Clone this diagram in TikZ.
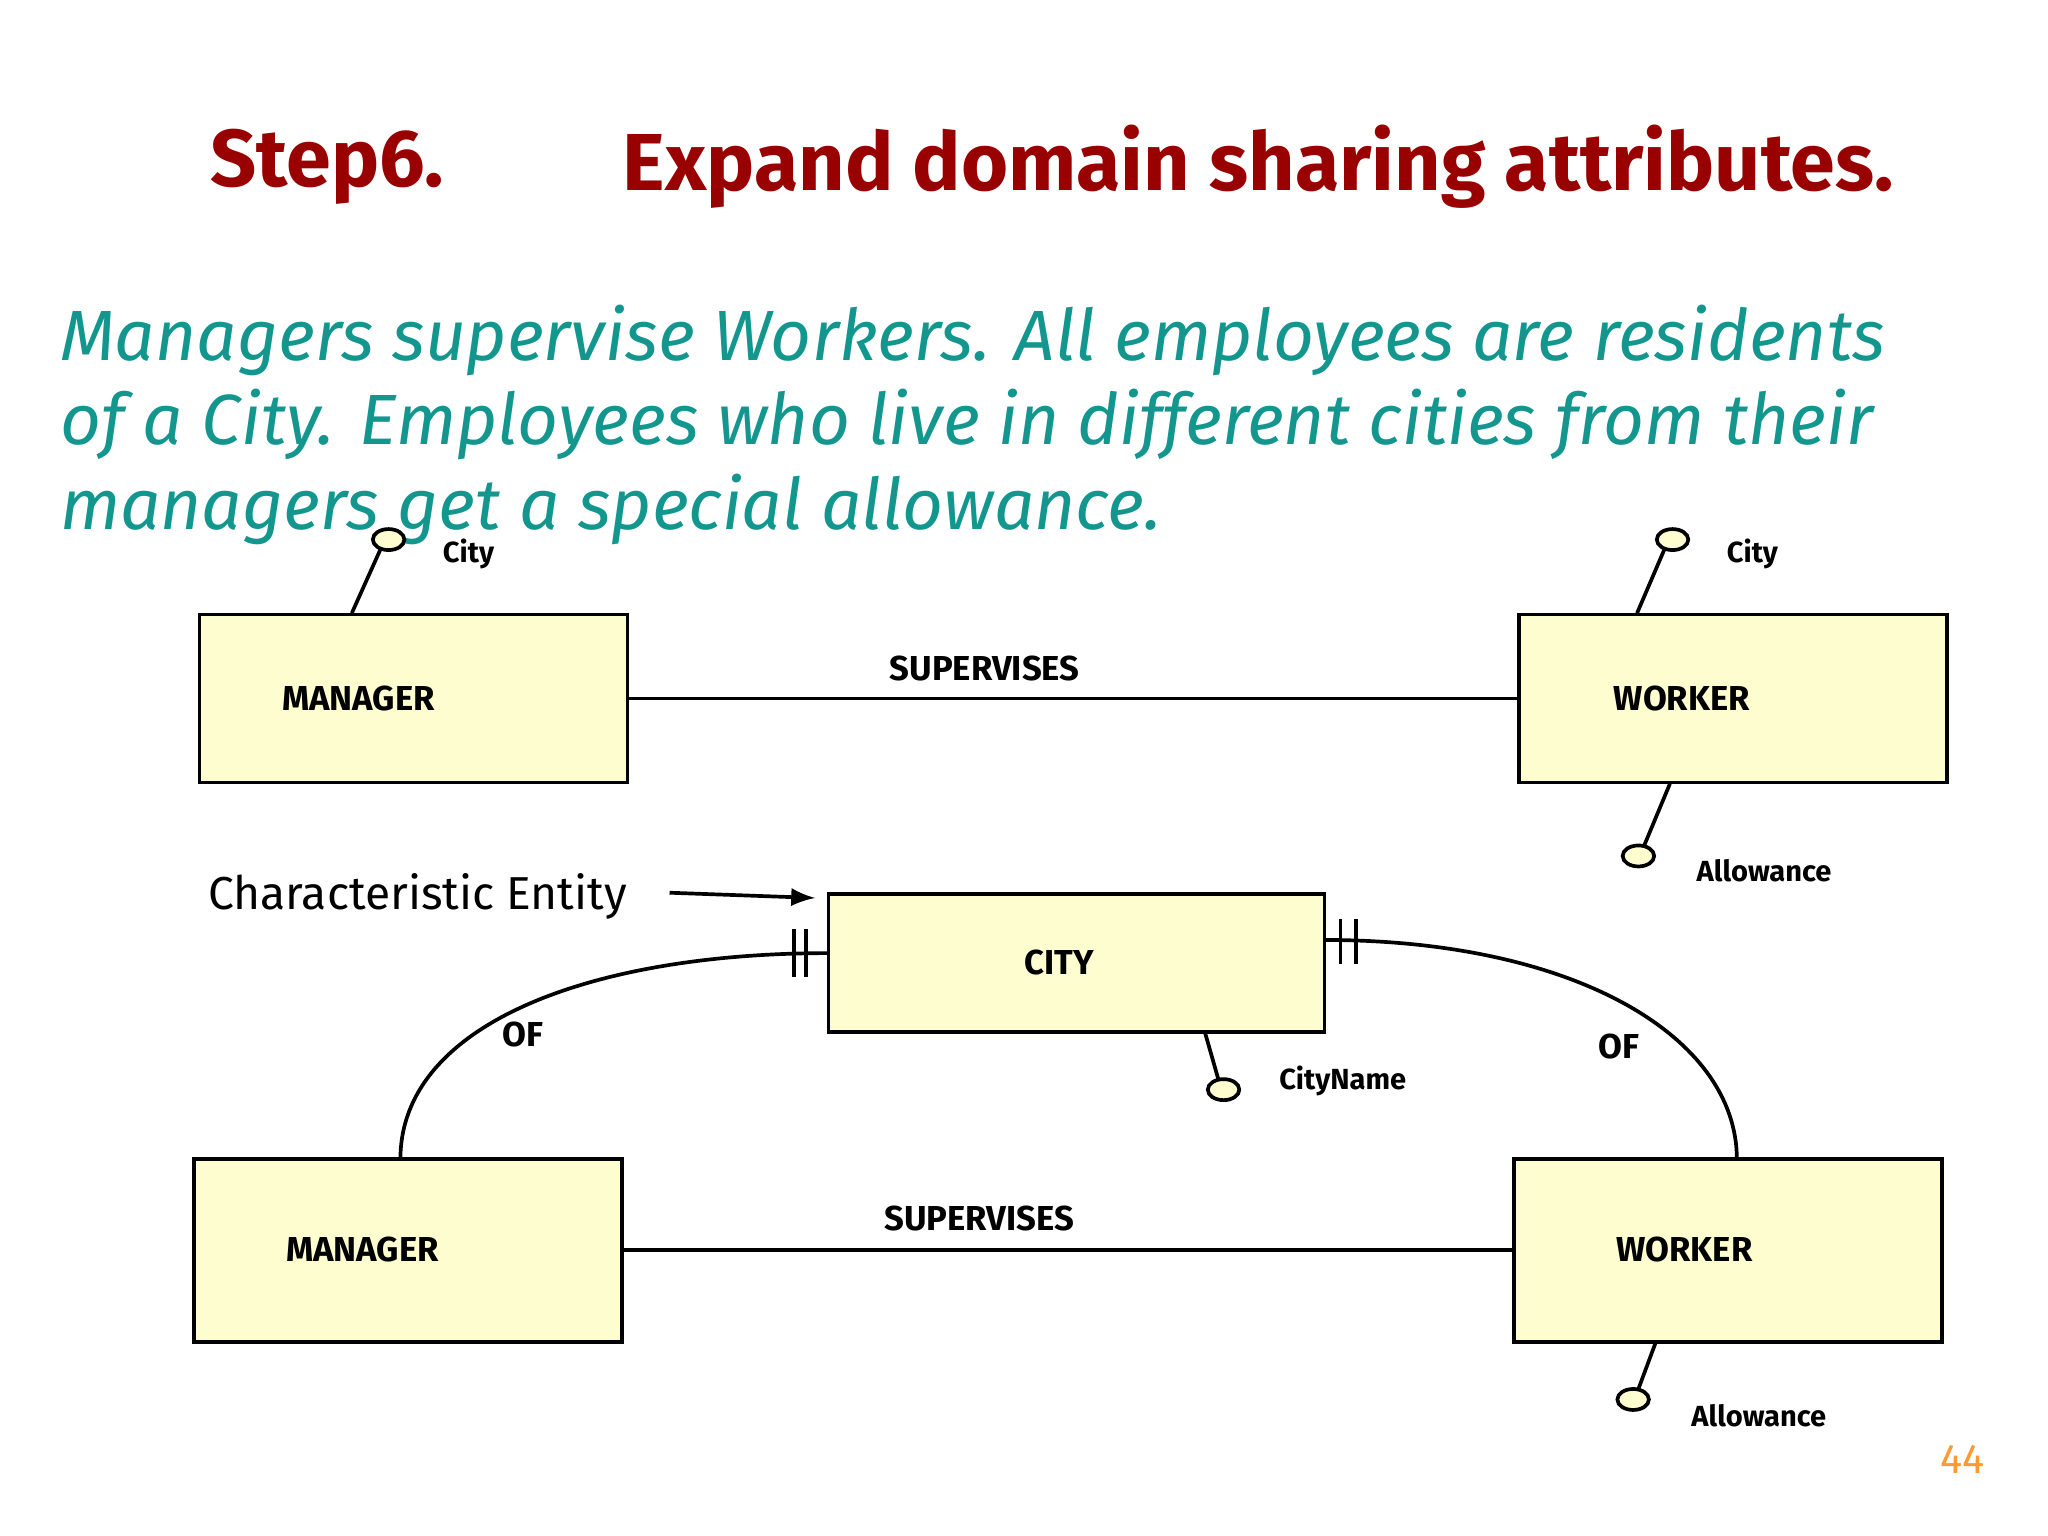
\documentclass[tikz,border=0pt]{standalone}
\usepackage{fontspec}
\setmainfont{Fira Sans}
\begin{document}
\begin{tikzpicture}[x=0.01cm,y=-0.01cm]
\definecolor{boxy}{HTML}{FDFDD0}
\definecolor{ttl}{HTML}{990000}
\definecolor{tl}{HTML}{12968E}
\tikzset{ent/.style={draw,thick,fill=boxy},
 elab/.style={font=\fontsize{7.5}{9}\selectfont\bfseries},
 alab/.style={font=\fontsize{6.3}{8}\selectfont\bfseries,anchor=west},
 att/.style={draw,fill=boxy,thick},
 conn/.style={thick}}
\useasboundingbox (0,0) rectangle (1560,1170);
\node[anchor=west,text=ttl,font=\fontsize{17.5}{21}\selectfont\bfseries] (t1) at (148,127) {Step6.};
\node[anchor=west,text=ttl,font=\fontsize{17.5}{21}\selectfont\bfseries] (t2) at (462,127) {Expand domain sharing attributes.};
\node[anchor=north west,text=tl,align=left,inner sep=0,font=\fontsize{15.4}{18.2}\selectfont\itshape] (para) at (45,232) {Managers supervise Workers. All employees are residents\\of a City. Employees who live in different cities from their\\managers get a special allowance.};
% top
\draw[ent] (152,468) rectangle (478,596); \node[elab] (m1) at (273,532) {MANAGER};
\draw[ent] (1157,468) rectangle (1483,596); \node[elab] (w1) at (1281,532) {WORKER};
\coordinate (m1r) at (478,532); \coordinate (w1l) at (1157,532);
\draw[conn] (m1r) -- (w1l); \node[elab] (s1) at (750,509) {SUPERVISES};
\draw[conn] (268,467) -- (290,418); \draw[att] (296,411) ellipse (12 and 8); \node[alab] at (325,422) {City};
\draw[conn] (1247,467) -- (1268,418); \draw[att] (1274,411) ellipse (12 and 8); \node[alab] at (1303,422) {City};
\draw[conn] (1272,597) -- (1252,645); \draw[att] (1248,652) ellipse (12 and 8); \node[alab] at (1280,663) {Allowance};
% city
\draw[ent] (631,681) rectangle (1009,786); \node[elab] (c) at (807,733) {CITY};
\draw[conn] (918,787) -- (928,822); \draw[att] (932,830) ellipse (12 and 8); \node[alab] at (962,823) {CityName};
\node[font=\fontsize{10}{12}\selectfont] (ce) at (318,683) {Characteristic Entity};
\coordinate (cea) at (510,680); \coordinate (ceb) at (621,684);
\draw[thick,-latex] (cea) -- (ceb);
% bottom
\draw[ent] (148,883) rectangle (474,1022); \node[elab] (m2) at (276,952) {MANAGER};
\draw[ent] (1153,883) rectangle (1479,1022); \node[elab] (w2) at (1283,952) {WORKER};
\draw[conn] (474,952) -- (1153,952); \node[elab] (s2) at (746,928) {SUPERVISES};
\draw[conn] (1261,1023) -- (1248,1058); \draw[att] (1244,1066) ellipse (12 and 8); \node[alab] at (1276,1078) {Allowance};
\draw[conn] (305,883) .. controls (305,780) and (450,726) .. (631,726);
\draw[conn] (605,708) -- (605,744) (614,708) -- (614,744);
\node[elab] at (398,788) {OF};
\draw[conn] (1009,716) .. controls (1200,716) and (1323,790) .. (1323,883);
\draw[conn] (1021,700) -- (1021,734) (1033,700) -- (1033,734);
\node[elab] at (1233,797) {OF};
\node[text=orange!80,font=\fontsize{9}{11}\selectfont] at (1495,1112) {44};
\end{tikzpicture}
\end{document}
